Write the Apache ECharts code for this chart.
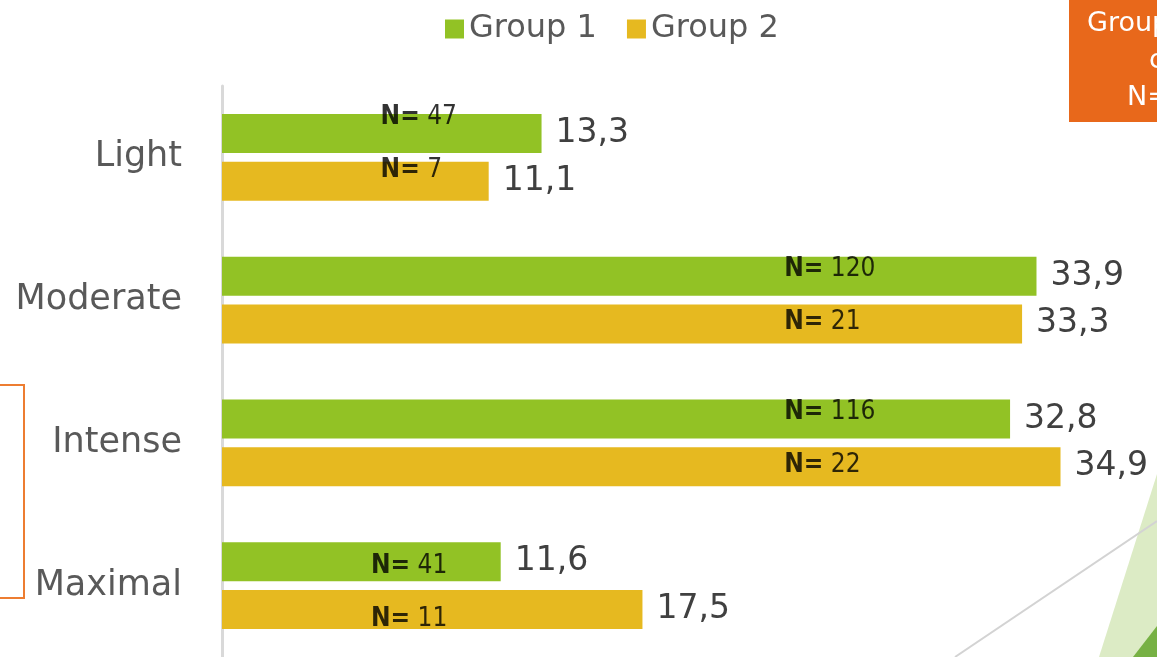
<!DOCTYPE html>
<html>
<head>
    <meta charset="UTF-8">
    <title>Groups by intensity</title>
    <script type="text/javascript" src="https://cdn.jsdelivr.net/npm/echarts@6/dist/echarts.min.js"></script>
</head>
<body style="margin:0;background-color:#ffffff;">
  <div id="main" style="width:1157px;height:657px;"></div>

  <script>
    // data
    var categories = ['Light', 'Moderate', 'Intense', 'Maximal'];
    var group1 = [13.3, 33.9, 32.8, 11.6];
    var group2 = [11.1, 33.3, 34.9, 17.5];
    var n1 = [47, 120, 116, 41];
    var n2 = [7, 21, 22, 11];

    // where the "N=" boxes sit (value units on the x axis) and a small vertical nudge
    var nLabelX = [6.6, 23.4, 23.4, 6.2];
    var nLabelDy = [-9, 0, 0, 12];

    var green = '#92c225';
    var yellow = '#e6b920';
    var font = 'DejaVu Sans';

    function fmt(v) {
        return v.toFixed(1).replace('.', ',');
    }

    function nSeries(name, counts, baseDy) {
        return {
            name: name + ' N',
            type: 'scatter',
            symbolSize: 0,
            silent: true,
            z: 5,
            data: counts.map(function (c, i) {
                return {
                    value: [nLabelX[i], categories[i]],
                    n: c,
                    label: { offset: [0, baseDy + nLabelDy[i]] }
                };
            }),
            label: {
                show: true,
                position: 'right',
                distance: 0,
                formatter: function (p) { return '{b|N=}{n| ' + p.data.n + '}'; },
                rich: {
                    b: { fontFamily: 'DejaVu Sans Condensed', fontWeight: 'bold', fontSize: 26, color: '#000' },
                    n: { fontFamily: 'DejaVu Sans Condensed', fontSize: 26, color: '#000' }
                }
            }
        };
    }

    var chart = echarts.init(document.getElementById('main'), null, {renderer: 'canvas'});

    var valueLabel = {
        show: true, position: 'right', distance: 14,
        fontSize: 33, color: '#404040', fontFamily: font,
        formatter: function (p) { return fmt(p.value); }
    };

    var option = {
        animation: false,
        textStyle: { fontFamily: font },
        legend: {
            data: ['Group 1', 'Group 2'],
            left: 440,
            top: 8,
            icon: 'rect',
            itemWidth: 19,
            itemHeight: 19,
            itemGap: 30,
            textStyle: { fontSize: 32, color: '#595959', fontFamily: font }
        },
        grid: { left: 222, top: 86, width: 913, height: 573, containLabel: false },
        xAxis: { type: 'value', min: 0, max: 38, show: false },
        yAxis: {
            type: 'category',
            data: categories,
            inverse: true,
            axisLine: { lineStyle: { color: '#d9d9d9', width: 3 } },
            axisTick: { show: false },
            axisLabel: { fontSize: 35, color: '#595959', margin: 40, fontFamily: font, padding: [3, 0, 0, 0] }
        },
        series: [
            {
                name: 'Group 1',
                type: 'bar',
                data: group1,
                barWidth: 39,
                barGap: '22%',
                itemStyle: { color: green },
                label: valueLabel
            },
            {
                name: 'Group 2',
                type: 'bar',
                data: group2,
                barWidth: 39,
                barGap: '22%',
                itemStyle: { color: yellow },
                label: valueLabel
            },
            nSeries('Group 1', n1, -31),
            nSeries('Group 2', n2, 22)
        ],
        graphic: [
            // orange box top right (slide decoration, cut off by the frame)
            { type: 'rect', left: 1069, top: 0, shape: { width: 100, height: 122 }, style: { fill: '#e8681b' } },
            { type: 'text', left: 1087, top: 10, style: { text: 'Group', fill: '#fff', fontSize: 27, fontFamily: font } },
            { type: 'text', left: 1149, top: 47, style: { text: 'c', fill: '#fff', fontSize: 27, fontFamily: font } },
            { type: 'text', left: 1127, top: 84, style: { text: 'N=', fill: '#fff', fontSize: 27, fontFamily: font } },
            // orange bracket on the left
            { type: 'polyline', shape: { points: [[0, 385], [24, 385], [24, 598], [0, 598]] },
              style: { stroke: '#ed7d31', lineWidth: 2, fill: null } },
            // green wedges bottom right
            { type: 'polygon', shape: { points: [[1157, 474], [1099, 657], [1157, 657]] },
              style: { fill: '#dcebc5' } },
            { type: 'polygon', shape: { points: [[1157, 626], [1133, 657], [1157, 657]] },
              style: { fill: '#77b144' } },
            { type: 'line', shape: { x1: 955, y1: 657, x2: 1157, y2: 521 },
              style: { stroke: '#d3d3d3', lineWidth: 2 } }
        ]
    };

    chart.setOption(option);
</script>

</body>
</html>
